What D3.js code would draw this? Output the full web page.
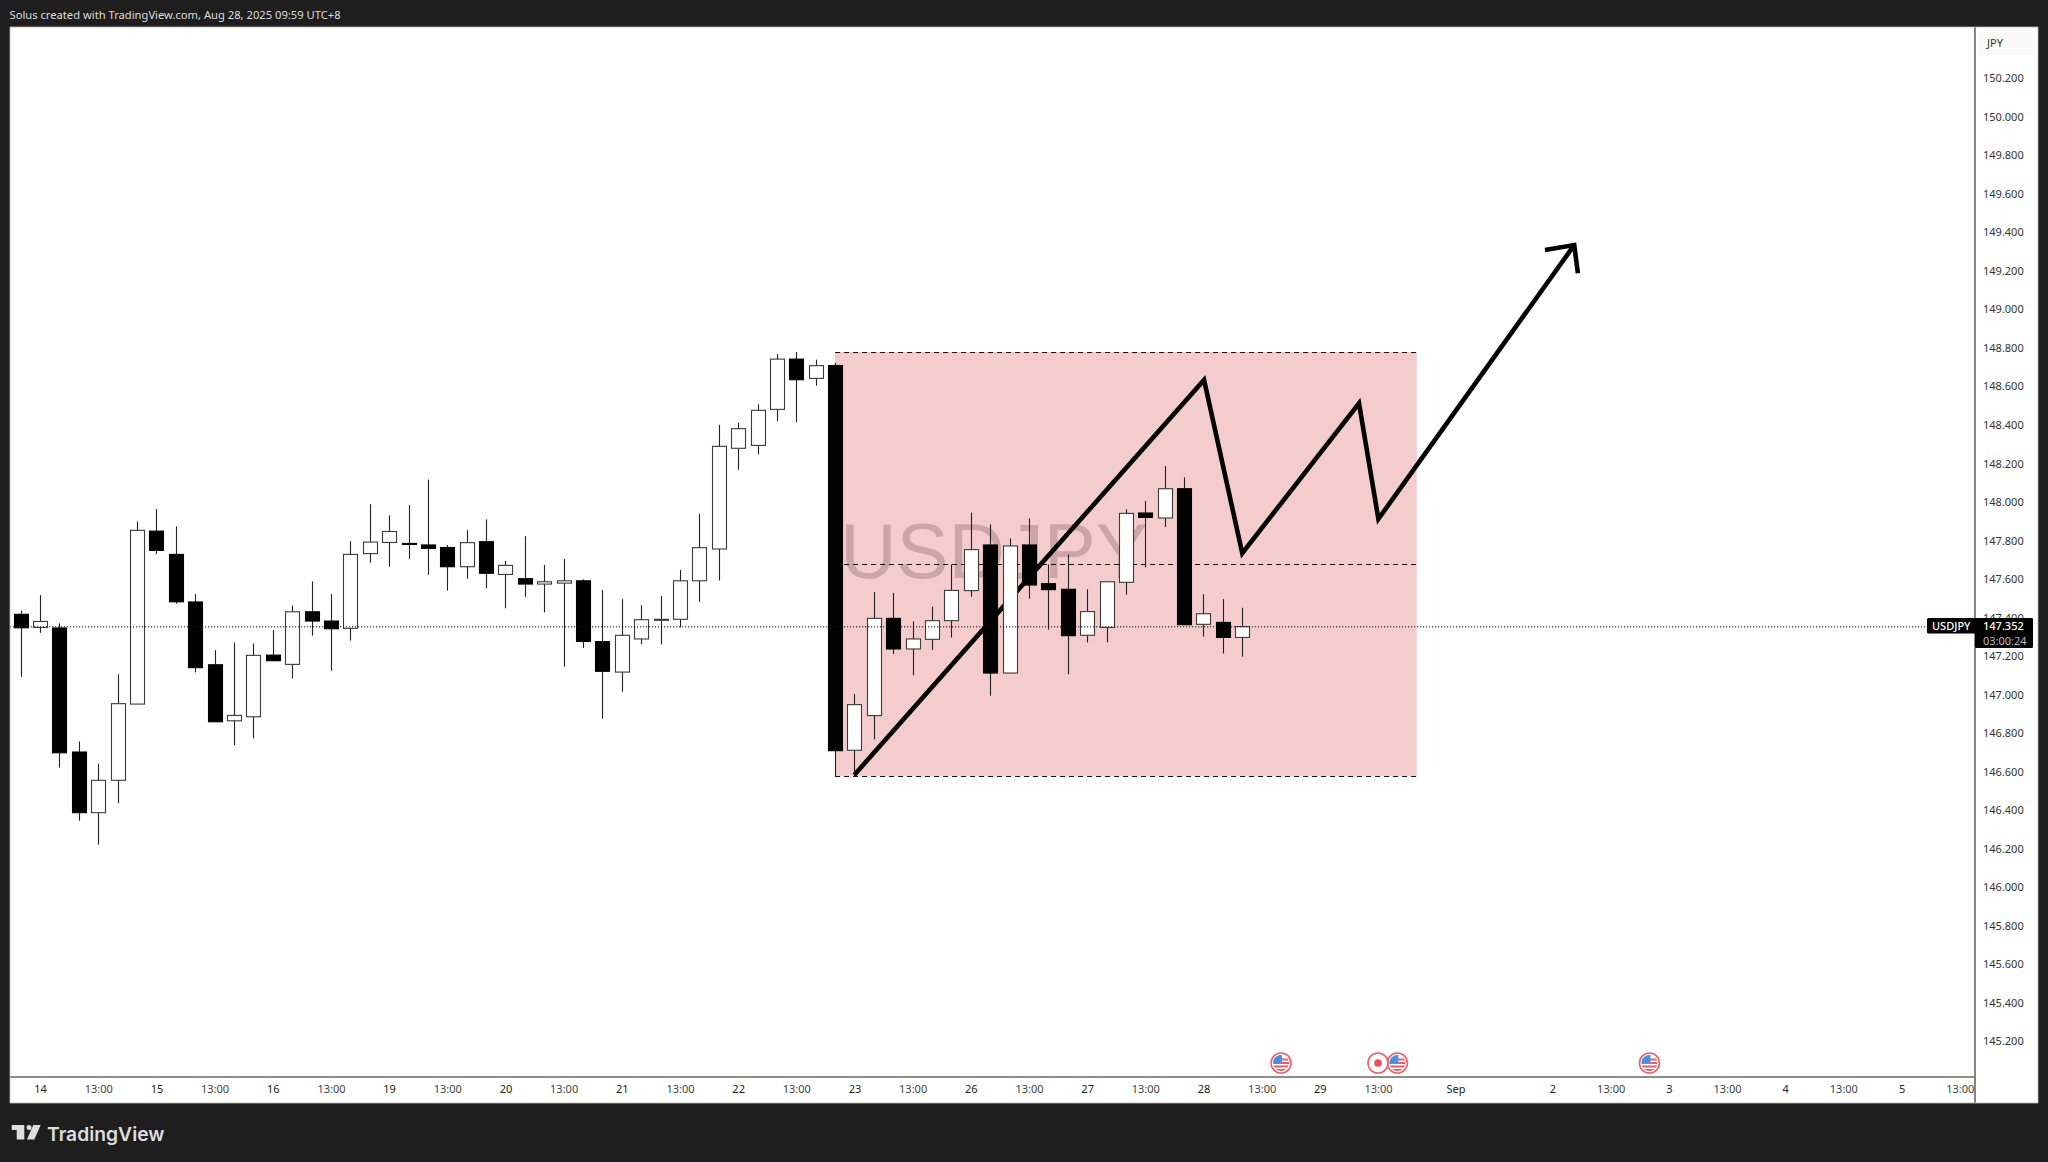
<!DOCTYPE html>
<html lang="en">
<head>
<meta charset="UTF-8">
<title>USDJPY</title>
<script src="https://d3js.org/d3.v7.min.js"></script>
<style>
    html, body { margin: 0; padding: 0; background: #1e1e1e; overflow: hidden; }
    svg { display: block; font-family: "Noto Sans", sans-serif; }
</style>
</head>
<body>
<div id="chart"></div>
<script>
// 4h candles, left to right
const highs = [147.436,147.517,147.370,146.757,146.641,147.105,147.899,147.963,147.873,147.522,147.231,147.271,147.266,147.335,147.462,147.588,147.522,147.797,147.989,147.931,147.984,148.117,
    147.777,147.854,147.910,147.694,147.823,147.673,147.704,147.598,147.543,147.496,147.465,147.512,147.647,147.939,148.401,148.412,148.507,148.768,148.779,148.739,148.723,
    147.003,147.533,147.528,147.380,147.457,147.676,147.945,147.884,147.811,147.915,147.676,147.728,147.547,147.586,147.962,148.005,148.187,148.128,147.521,147.496,147.451];
const lows = [147.093,147.321,146.622,146.345,146.221,146.437,146.951,147.730,147.472,147.115,146.859,146.738,146.773,147.176,147.084,147.306,147.124,147.280,147.685,147.664,147.704,147.622,
    147.540,147.602,147.552,147.448,147.508,147.427,147.145,147.242,146.875,147.015,147.261,147.261,147.349,147.482,147.593,148.168,148.247,148.419,148.414,148.604,146.577,
    146.577,146.768,147.211,147.100,147.232,147.296,147.508,146.994,147.112,147.498,147.337,147.105,147.271,147.271,147.519,147.661,147.870,147.363,147.301,147.213,147.197];
const opens = [147.417,147.349,147.346,146.702,146.387,146.555,146.951,147.849,147.728,147.481,147.155,146.864,146.885,147.205,147.157,147.430,147.382,147.344,147.732,147.790,147.785,147.777,
    147.764,147.664,147.794,147.624,147.602,147.574,147.579,147.591,147.275,147.117,147.289,147.387,147.391,147.591,147.756,148.279,148.294,148.481,148.742,148.642,148.709,
    146.711,146.891,147.396,147.237,147.287,147.384,147.540,147.777,147.112,147.777,147.576,147.547,147.308,147.349,147.583,147.943,147.917,148.069,147.365,147.375,147.297];
const closes = [147.347,147.380,146.698,146.387,146.555,146.953,147.853,147.749,147.482,147.140,146.859,146.892,147.204,147.176,147.430,147.382,147.342,147.728,147.792,147.847,147.780,147.759,
    147.664,147.789,147.630,147.671,147.574,147.586,147.591,147.276,147.121,147.308,147.389,147.391,147.591,147.763,148.289,148.381,148.476,148.742,148.635,148.708,146.709,
    146.948,147.396,147.237,147.289,147.384,147.541,147.753,147.112,147.772,147.569,147.545,147.306,147.431,147.586,147.941,147.920,148.069,147.363,147.420,147.297,147.353];

const priceTicks = [150.2,150,149.8,149.6,149.4,149.2,149,148.8,148.6,148.4,148.2,148,147.8,147.6,147.4,147.2,147,146.8,146.6,146.4,146.2,146,145.8,145.6,145.4,145.2];
const timeBars = [1,4,7,10,13,16,19,22,25,28,31,34,37,40,43,46,49,52,55,58,61,64,67,70,74,79,82,85,88,91,94,97,100];
const timeLabels = ["14","13:00","15","13:00","16","13:00","19","13:00","20","13:00","21","13:00","22","13:00","23","13:00","26","13:00","27","13:00","28","13:00","29","13:00","Sep","2","13:00","3","13:00","4","13:00","5","13:00"];

const lastPrice = 147.352;
const flagEvents = [65, 71, 84];
const dotEvents = [70];

// drawings: range box and projected path, in bar index / price
const boxStart = 42, boxEnd = 72;
const boxTop = 148.779, boxMid = 147.677, boxBottom = 146.576;
const pathBars = [42.99, 61.03, 63, 69.02, 70.02, 80.12];
const pathPrices = [146.583, 148.634, 147.734, 148.513, 147.912, 149.334];
const arrowBars = [78.61, 80.12, 80.31];
const arrowPrices = [149.309, 149.334, 149.188];

const W = 2048, H = 1162;
const left = 10, right = 2038, top_ = 27, bottom = 1103, axisX = 1975, axisY = 1077;

const x = d3.scaleLinear().domain([0, 100]).range([20.7, 1959.7]);
const y = d3.scaleLinear().domain([150.2, 145.2]).range([78.3, 1041.3]);

const svg = d3.select("#chart").append("svg")
    .attr("width", W)
    .attr("height", H);

svg.append("rect").attr("width", W).attr("height", H).attr("fill", "#1e1e1e");
svg.append("text")
    .attr("x", 9.5).attr("y", 18.5)
    .attr("fill", "#dcdcdc").attr("font-size", 11.2)
    .text("Solus created with TradingView.com, Aug 28, 2025 09:59 UTC+8");

svg.append("rect")
    .attr("x", left).attr("y", top_)
    .attr("width", right - left).attr("height", bottom - top_)
    .attr("fill", "#fff");

// range box
svg.append("rect")
    .attr("x", x(boxStart)).attr("y", y(boxTop))
    .attr("width", x(boxEnd) - x(boxStart)).attr("height", y(boxBottom) - y(boxTop))
    .attr("fill", "#f4cccc");

svg.append("text")
    .attr("x", 994).attr("y", 578)
    .attr("text-anchor", "middle")
    .attr("font-family", "Liberation Sans")
    .attr("font-size", 78)
    .attr("fill", "#cca5a7")
    .text("USDJPY");

svg.selectAll(".box-line")
    .data([boxTop, boxMid, boxBottom])
    .join("line")
    .attr("class", "box-line")
    .attr("x1", x(boxStart)).attr("x2", x(boxEnd))
    .attr("y1", d => Math.round(y(d)) + 0.5).attr("y2", d => Math.round(y(d)) + 0.5)
    .attr("stroke", "#111").attr("stroke-width", 1.2)
    .attr("stroke-dasharray", "5 4");

const line = d3.line().x(d => x(d[0])).y(d => y(d[1]));
svg.append("path")
    .attr("d", line(d3.zip(pathBars, pathPrices)))
    .attr("fill", "none").attr("stroke", "#000").attr("stroke-width", 4.6)
    .attr("stroke-linejoin", "miter");
svg.append("path")
    .attr("d", line(d3.zip(arrowBars, arrowPrices)))
    .attr("fill", "none").attr("stroke", "#000").attr("stroke-width", 4.6)
    .attr("stroke-linejoin", "miter");

// candles
const bars = d3.range(opens.length);
const cx = i => Math.round(x(i));
svg.selectAll(".wick")
    .data(bars)
    .join("line")
    .attr("class", "wick")
    .attr("x1", i => cx(i) + 0.5).attr("x2", i => cx(i) + 0.5)
    .attr("y1", i => y(highs[i])).attr("y2", i => y(lows[i]))
    .attr("stroke", "#222").attr("stroke-width", 1.1);

svg.selectAll(".body")
    .data(bars)
    .join("rect")
    .attr("class", "body")
    .attr("x", i => cx(i) - 6.5)
    .attr("width", 14)
    .attr("y", i => y(Math.max(opens[i], closes[i])))
    .attr("height", i => Math.max(Math.abs(opens[i] - closes[i]) * (y(0) - y(1)), 1))
    .attr("fill", i => closes[i] >= opens[i] ? "#fff" : "#000")
    .attr("stroke", i => closes[i] >= opens[i] ? "#3a3a3a" : "#000")
    .attr("stroke-width", 1.1);

// last price line
svg.append("line")
    .attr("x1", left).attr("x2", 1927)
    .attr("y1", y(lastPrice)).attr("y2", y(lastPrice))
    .attr("stroke", "#111").attr("stroke-width", 1)
    .attr("stroke-dasharray", "1.2 1.8");

// event markers
const defs = svg.append("defs");
defs.append("clipPath").attr("id", "flagClip")
    .append("circle").attr("r", 8);

const flag = svg.selectAll(".flag")
    .data(flagEvents)
    .join("g")
    .attr("class", "flag")
    .attr("transform", d => `translate(${x(d)},1063)`);
flag.append("circle").attr("r", 10).attr("fill", "#fff").attr("stroke", "#e8606c").attr("stroke-width", 1.6);
const inner = flag.append("g").attr("clip-path", "url(#flagClip)");
[-4.5, -1, 2.5, 6].forEach(s => {
    inner.append("rect").attr("x", -9).attr("y", s).attr("width", 18).attr("height", 2).attr("fill", "#ee5c66");
});
inner.append("rect").attr("x", -9).attr("y", -9).attr("width", 10).attr("height", 9).attr("fill", "#4a8fe0");

const dot = svg.selectAll(".dot-event")
    .data(dotEvents)
    .join("g")
    .attr("class", "dot-event")
    .attr("transform", d => `translate(${x(d)},1063)`);
dot.append("circle").attr("r", 10).attr("fill", "#fff").attr("stroke", "#e8606c").attr("stroke-width", 1.6);
dot.append("circle").attr("r", 3.8).attr("fill", "#ee4c5a");

// axes
const priceAxis = d3.axisRight(y)
    .tickValues(priceTicks)
    .tickFormat(d3.format(".3f"))
    .tickSize(0)
    .tickPadding(8);
const gPrice = svg.append("g").attr("transform", `translate(${axisX},0)`).call(priceAxis);
gPrice.select(".domain").remove();
gPrice.selectAll("text").attr("font-family", "Noto Sans").attr("font-size", 11).attr("fill", "#333");

const timeAxis = d3.axisBottom(x)
    .tickValues(timeBars)
    .tickFormat((d, i) => timeLabels[i])
    .tickSize(0)
    .tickPadding(8);
const gTime = svg.append("g").attr("transform", `translate(0,${axisY})`).call(timeAxis);
gTime.select(".domain").remove();
gTime.selectAll("text").attr("font-family", "Noto Sans").attr("font-size", 11)
    .attr("fill", (d, i) => timeLabels[i] === "13:00" ? "#444" : "#222");

svg.append("line").attr("x1", left).attr("x2", axisX).attr("y1", axisY).attr("y2", axisY)
    .attr("stroke", "#666").attr("stroke-width", 1.6);
svg.append("line").attr("x1", axisX).attr("x2", axisX).attr("y1", top_).attr("y2", bottom)
    .attr("stroke", "#666").attr("stroke-width", 1.6);
svg.append("rect").attr("x", left).attr("y", top_).attr("width", right - left).attr("height", bottom - top_)
    .attr("fill", "none").attr("stroke", "#bbb").attr("stroke-width", 0.8);

// currency box on the price scale
svg.append("rect").attr("x", 1978).attr("y", 30).attr("width", 56).attr("height", 25).attr("rx", 2)
    .attr("fill", "#fafafa");
svg.append("text").attr("x", 1987).attr("y", 47).attr("font-size", 11).attr("fill", "#333").text("JPY");

// last price tag
const tag = svg.append("g");
tag.append("rect").attr("x", 1927).attr("y", 618).attr("width", 106).attr("height", 15.5).attr("rx", 1.5).attr("fill", "#000");
tag.append("rect").attr("x", 1975).attr("y", 618).attr("width", 58).attr("height", 30).attr("rx", 1.5).attr("fill", "#000");
tag.append("text").attr("x", 1932).attr("y", 630).attr("font-size", 11).attr("font-weight", 500).attr("fill", "#fff").text("USDJPY");
tag.append("text").attr("x", 1983).attr("y", 630).attr("font-size", 11).attr("font-weight", 500).attr("fill", "#fff").text(d3.format(".3f")(lastPrice));
tag.append("text").attr("x", 1983).attr("y", 645).attr("font-size", 11).attr("fill", "#bbb").text("03:00:24");

// footer logo
const logo = svg.append("g").attr("transform", "translate(0,1040)").attr("fill", "#dedede");
logo.append("path").attr("d", "M11.7 85h12.6v5h-12.6z M16.7 90h7.6v9.5h-7.6z");
logo.append("circle").attr("cx", 29).attr("cy", 87.5).attr("r", 2.5);
logo.append("path").attr("d", "M33.3 85h7.4l-6.4 14.5h-7.4z");
svg.append("text")
    .attr("x", 47).attr("y", 1140.5)
    .attr("font-family", "Inter")
    .attr("font-size", 19.3).attr("font-weight", 600)
    .attr("fill", "#dedede")
    .text("TradingView");
</script>
</body>
</html>
